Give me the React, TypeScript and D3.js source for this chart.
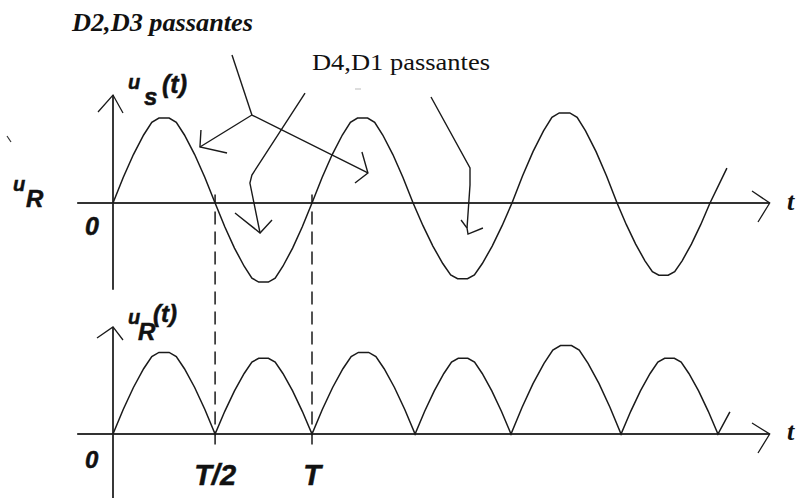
import React from "react";
import * as d3 from "d3";

// ---- data (time in units of T, amplitude normalised) ----
const usCrossings = [0, 0.513, 1.0, 1.508, 2.005, 2.533, 3.0];
const usExtrema = [1.0, -0.93, 1.0, -0.89, 1.06, -0.85];
const usTail = [3.085, 0.41];
const uRZeros = [0, 0.513, 1.0, 1.518, 2.0, 2.553, 3.04];
const uRPeaks = [0.96, 0.89, 0.96, 0.89, 1.04, 0.89];
const uRTail = [3.1, 0.26];
// shape of one drawn half-wave (phase, relative height)
const halfWaveProfile: [number, number][] = [
  [0, 0], [0.1, 0.3], [0.2, 0.57], [0.3, 0.8], [0.38, 0.95], [0.45, 1],
  [0.55, 1], [0.62, 0.95], [0.7, 0.8], [0.8, 0.57], [0.9, 0.3], [1, 0],
];
const tickLabels = ["T/2", "T"];
const tickTimes = [0.513, 1.0];

// annotation arrows (data units of the top plot)
const annotA: [number, number][] = [[0.598, 1.741], [0.698, 1.035]];
const annotA1: [number, number][] = [[0.698, 1.035], [0.437, 0.659]];
const annotA1Head: [number, number][] = [[0.442, 0.859], [0.437, 0.659], [0.573, 0.588]];
const annotA2: [number, number][] = [[0.698, 1.035], [1.281, 0.353]];
const annotA2Head: [number, number][] = [[1.251, 0.6], [1.281, 0.353], [1.216, 0.235]];
const annotB: [number, number][] = [[0.965, 1.294], [0.698, 0.329], [0.688, 0.235], [0.739, -0.353]];
const annotBHead: [number, number][] = [[0.613, -0.118], [0.739, -0.353], [0.799, -0.2]];
const annotC: [number, number][] = [[1.598, 1.247], [1.794, 0.412], [1.794, 0.212], [1.779, -0.294]];
const annotCHead: [number, number][] = [[1.749, -0.2], [1.779, -0.294], [1.784, -0.365], [1.859, -0.294]];

export default function App() {
  const x = d3.scaleLinear().domain([0, 1]).range([113, 312]);
  const yTop = d3.scaleLinear().domain([-1, 1]).range([288, 118]);
  const yBot = d3.scaleLinear().domain([-1, 1]).range([519, 349]);

  const buildWave = (zeros: number[], amps: number[], tail: number[]) => {
    const pts: [number, number][] = [];
    for (let i = 0; i < amps.length; i++) {
      const a = zeros[i], b = zeros[i + 1];
      halfWaveProfile.forEach(([p, v], j) => {
        if (i > 0 && j === 0) return;
        pts.push([a + (b - a) * p, v * amps[i]]);
      });
    }
    pts.push([tail[0], tail[1]]);
    return pts;
  };

  const lineTop = d3.line<[number, number]>().x((d) => x(d[0])).y((d) => yTop(d[1]));
  const lineBot = d3.line<[number, number]>().x((d) => x(d[0])).y((d) => yBot(d[1]));

  const usPts = buildWave(usCrossings, usExtrema, usTail);
  const uRPts = buildWave(uRZeros, uRPeaks.map(Math.abs), uRTail);

  const axisStart = -0.18, axisEnd = 3.3;
  const stroke = "#1a1a1a";
  const sans = "'Liberation Sans', Arial, sans-serif";
  const serif = "'Liberation Serif', 'Times New Roman', serif";

  const lab = { fontFamily: sans, fontWeight: 700, fontStyle: "italic" as const, fill: "#111", stroke: "#111", strokeWidth: 0.5 };

  const annots = [annotA, annotA1, annotA1Head, annotA2, annotA2Head, annotB, annotBHead, annotC, annotCHead];

  return (
    <svg width={800} height={498} style={{ position: "absolute", left: 0, top: 0, background: "#fff" }}>
      <rect width={800} height={498} fill="#fff" />
      {/* titles */}
      <text x={72} y={31} fontFamily={serif} fontWeight={700} fontStyle="italic" fontSize={25}
        textLength={181} lengthAdjust="spacingAndGlyphs" fill="#111">D2,D3 passantes</text>
      <text x={312} y={70} fontFamily={serif} fontSize={23}
        textLength={178} lengthAdjust="spacingAndGlyphs" fill="#111">D4,D1 passantes</text>
      <line x1={355} y1={89} x2={361} y2={89} stroke="#bbb" strokeWidth={1} />
      <line x1={7} y1={136} x2={11} y2={142} stroke="#333" strokeWidth={1.2} />

      {/* top axes */}
      <line x1={x(axisStart)} y1={yTop(0)} x2={x(axisEnd)} y2={yTop(0)} stroke="#333" strokeWidth={2} />
      <polyline points={`752,191 ${x(axisEnd)},${yTop(0)} 758,222`} fill="none" stroke={stroke} strokeWidth={1.3} />
      <line x1={x(0)} y1={yTop(1.27)} x2={x(0)} y2={yTop(-1.02)} stroke="#222" strokeWidth={1.8} />
      <polyline points={`98,112 ${x(0)},${yTop(1.27)} 123,113`} fill="none" stroke={stroke} strokeWidth={1.3} />

      {/* bottom axes */}
      <line x1={x(axisStart)} y1={yBot(0)} x2={x(axisEnd)} y2={yBot(0)} stroke="#333" strokeWidth={2} />
      <polyline points={`752,423 ${x(axisEnd)},${yBot(0)} 758,453`} fill="none" stroke={stroke} strokeWidth={1.3} />
      <line x1={x(0)} y1={yBot(1.26)} x2={x(0)} y2={498} stroke="#222" strokeWidth={1.8} />
      <polyline points={`97,338 ${x(0)},${yBot(1.26)} 123,340`} fill="none" stroke={stroke} strokeWidth={1.3} />

      {/* dashed guides */}
      {tickTimes.map((t, i) => (
        <g key={i}>
          <line x1={x(t)} y1={yTop(0.1)} x2={x(t)} y2={yTop(0)} stroke={stroke} strokeWidth={1.5} />
          <line x1={x(t)} y1={yTop(-0.1)} x2={x(t)} y2={yBot(-0.18)} stroke={stroke} strokeWidth={1.5} strokeDasharray="13,7" />
        </g>
      ))}

      {/* waves */}
      <path d={lineTop(usPts) || ""} fill="none" stroke={stroke} strokeWidth={1.5} />
      <path d={lineBot(uRPts) || ""} fill="none" stroke={stroke} strokeWidth={1.5} />

      {/* annotation arrows */}
      {annots.map((a, i) => (
        <path key={i} d={lineTop(a) || ""} fill="none" stroke={stroke} strokeWidth={1.4} />
      ))}

      {/* labels */}
      <text x={128} y={89} {...lab} fontSize={20}>u</text>
      <text x={144} y={105} {...lab} fontSize={24}>s</text>
      <text x={162} y={93} {...lab} fontSize={25}>(t)</text>

      <text x={128} y={324} {...lab} fontSize={20}>u</text>
      <text x={138} y={340} {...lab} fontSize={24}>R</text>
      <text x={153} y={322} {...lab} fontSize={24}>(t)</text>

      <text x={13} y={191} {...lab} fontSize={20}>u</text>
      <text x={26} y={207} {...lab} fontSize={24}>R</text>

      <text x={85} y={235} {...lab} fontSize={25}>0</text>
      <text x={85} y={468} {...lab} fontSize={24}>0</text>
      {tickLabels.map((l, i) => (
        <text key={l} x={x(tickTimes[i])} y={485} {...lab} fontSize={29} textAnchor="middle">{l}</text>
      ))}

      <text x={787} y={210} fontFamily={serif} fontWeight={700} fontStyle="italic" fontSize={26} fill="#111">t</text>
      <text x={787} y={440} fontFamily={serif} fontWeight={700} fontStyle="italic" fontSize={26} fill="#111">t</text>
    </svg>
  );
}
